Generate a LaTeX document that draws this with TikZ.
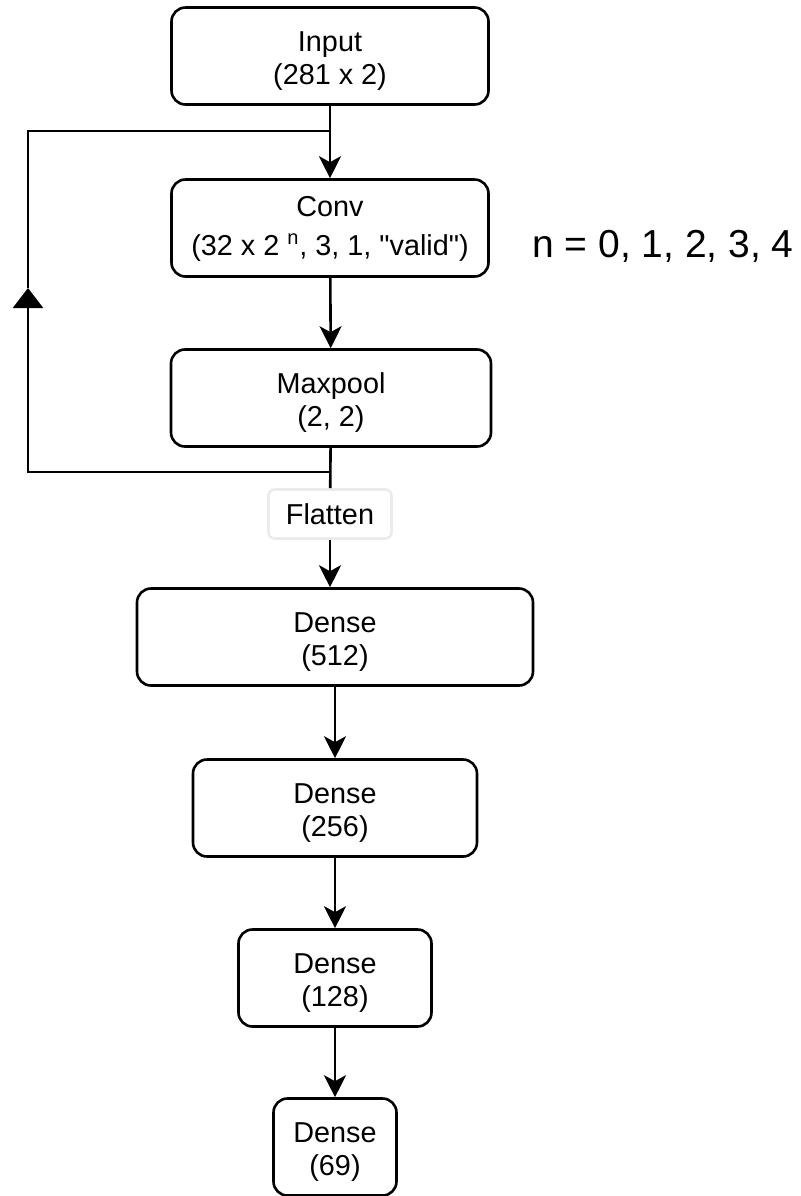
\documentclass[tikz,border=0pt]{standalone}
\usepackage{fontspec}
\setmainfont{Liberation Sans}
\usetikzlibrary{arrows.meta}

\begin{document}
\begin{tikzpicture}
  [x=0.5pt,y=-0.5pt,line width=1.3pt,
   every node/.style={align=center,font=\fontsize{14.4}{16.5}\selectfont},
   layer/.style={draw=black,fill=white,rounded corners=7pt,minimum height=48.5pt,inner sep=0pt,text height=31.5pt},
   flow/.style={-{Stealth[length=11pt,width=11pt,inset=3pt]}}]
  \useasboundingbox (0,0) rectangle (800,1196);

  \node[layer,minimum width=158.5pt] (input) at (330,56)  {Input\\(281 x 2)};
  \node[layer,minimum width=158.5pt,text height=30pt] (conv) at (330,228) {Conv\\[3pt](32 x 2 \textsuperscript{n}, 3, 1, \textquotedbl valid\textquotedbl)};
  \node[layer,minimum width=160pt]   (pool)  at (331,398) {Maxpool\\(2, 2)};
  \node[draw=black!8,fill=white,rounded corners=3pt,minimum width=61.5pt,minimum height=24.5pt,inner sep=0pt]
                                     (flat)  at (330,514) {Flatten};
  \node[layer,minimum width=198pt]   (d1)    at (335,637)  {Dense\\(512)};
  \node[layer,minimum width=142pt]   (d2)    at (335,808)  {Dense\\(256)};
  \node[layer,minimum width=96.5pt]  (d3)    at (335,978)  {Dense\\(128)};
  \node[layer,minimum width=61.5pt]  (d4)    at (335,1147) {Dense\\(69)};
  \node[font=\fontsize{19.5}{22}\selectfont] (note) at (663,246) {n = 0, 1, 2, 3, 4};

  % repeat loop
  \coordinate (split) at (330,131);
  \coordinate (join)  at (330,472);
  \coordinate (up)    at (28,288);

  \draw[flow] (input) -- (conv);
  \draw[flow] (conv) -- (pool);
  \draw (pool) -- (flat);
  \draw[flow] (flat.south) -- (flat.south |- d1.north);

  \foreach \from/\to in {d1/d2,d2/d3,d3/d4}
    \draw[flow] (\from) -- (\to);

  \draw[-{Triangle[length=10pt,width=15pt]}] (join) -| (up);
  \draw (up) |- (split);

\end{tikzpicture}
\end{document}
